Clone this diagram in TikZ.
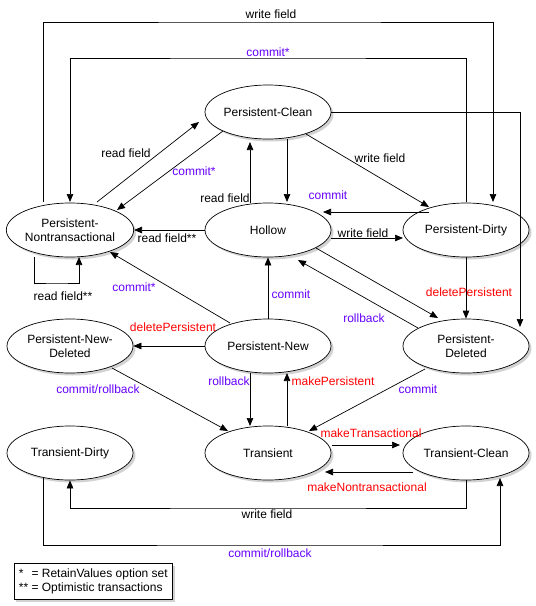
\documentclass[tikz,border=0pt]{standalone}
\usepackage{fontspec}
\setmainfont{Liberation Sans}
\usetikzlibrary{positioning}
\usetikzlibrary{calc}
\usetikzlibrary{arrows.meta}
\usetikzlibrary{shapes.geometric}
\usetikzlibrary{shadows}

\definecolor{cmtblue}{RGB}{102,0,255}
\definecolor{oprred}{RGB}{255,0,0}

\tikzset{
  shade/.style = {drop shadow={shadow xshift=2.5pt, shadow yshift=-2.5pt, fill=black!35}},
  state/.style = {ellipse, draw, fill=white, line width=0.7pt, minimum width=126pt, minimum height=54pt, inner sep=0pt, align=center, shade},
  arr/.style = {line width=0.7pt, -{Triangle[length=8pt, width=6.5pt]}},
  cmt/.style = {text=cmtblue},
  opr/.style = {text=oprred},
}

\begin{document}
\begin{tikzpicture}[x=1pt, y=-1pt, font=\fontsize{12}{14.3}\selectfont]

\useasboundingbox (0, 0) rectangle (536, 606);

% states
\node [state] (pclean) at (268, 112) {Persistent-Clean};
\node [state] (pnontx) at (70, 230) {Persistent-\\Nontransactional};
\node [state] (hollow) at (268, 230) {Hollow};
\node [state] (pdirty) at (466, 230) {Persistent-Dirty};
\node [state] (pnewdel) at (70, 346) {Persistent-New-\\Deleted};
\node [state] (pnew) at (268, 346) {Persistent-New};
\node [state] (pdel) at (466, 346) {Persistent-\\Deleted};
\node [state] (tdirty) at (70, 453) {Transient-Dirty};
\node [state] (trans) at (268, 453) {Transient};
\node [state] (tclean) at (466, 453) {Transient-Clean};

\node [draw, fill=white, line width=0.7pt, anchor=north west, align=left, inner xsep=5pt, inner ysep=4pt, minimum width=157pt, minimum height=36pt, shade] (legend) at (13.5, 563) {*\phantom{*} = RetainValues option set\\** = Optimistic transactions};

% corners of the long connectors
\coordinate (wftop) at (271, 22);
\coordinate (cmtop) at (268, 58);
\coordinate (rfloop) at (57, 283);
\coordinate (wfbot) at (268, 508);
\coordinate (crbot) at (268, 545);

% labels
\node (lwf1) at (271, 14) {write field};
\node [cmt] (lcm1) at (268, 52) {commit*};
\node (lrf1) at (126, 153) {read field};
\node [cmt] (lcm2) at (194, 171) {commit*};
\node (lwf2) at (380, 158) {write field};
\node (lrf2) at (225, 198) {read field};
\node [cmt] (lcm3) at (328, 195) {commit};
\node (lrf3) at (167, 238) {read field**};
\node (lwf3) at (363, 233) {write field};
\node (lrf4) at (63, 296) {read field**};
\node [cmt] (lcm4) at (134, 287) {commit*};
\node [cmt] (lcm5) at (291, 294) {commit};
\node [opr] (ldp1) at (469, 292) {deletePersistent};
\node [cmt] (lrb1) at (364, 318) {rollback};
\node [opr] (ldp2) at (173, 327) {deletePersistent};
\node [cmt] (lcr1) at (98, 389) {commit/rollback};
\node [cmt] (lrb2) at (229, 381) {rollback};
\node [opr] (lmp) at (333, 381) {makePersistent};
\node [cmt] (lcm6) at (418, 389) {commit};
\node [opr] (lmt) at (371, 433) {makeTransactional};
\node [opr] (lmn) at (367, 487) {makeNontransactional};
\node (lwf4) at (267, 514) {write field};
\node [cmt] (lcr2) at (270, 553) {commit/rollback};

% transitions
\draw [arr] ($(pnontx)+(-27,-28)$) |- (wftop) -| ($(pdirty)+(27,-28)$);
\draw [arr] ($(pdirty)+(0,-28)$) |- (cmtop) -| ($(pnontx)+(0,-28)$);
\draw [arr] (pclean.east) -| ($(pdel)+(54,-19)$);
\draw [arr] ($(pnontx)+(27,-28)$) -- ($(pclean)+(-69,10)$);
\draw [arr] ($(pclean)+(-45,19)$) -- ($(pnontx)+(47,-20)$);
\draw [arr] ($(hollow)+(-18,-27)$) -- ($(pclean)+(-18,30)$);
\draw [arr] ($(pclean)+(19,27)$) -- ($(hollow)+(19,-28)$);
\draw [arr] ($(pclean)+(38,22)$) -- ($(pdirty)+(-37,-23)$);
\draw [arr] ($(pdirty)+(-37,-18)$) -- ($(hollow)+(55,-18)$);
\draw [arr] ($(hollow)+(63,8)$) -- ($(pdirty)+(-63,8)$);
\draw [arr] (hollow.west) -- (pnontx.east);
\draw [arr] ($(pnontx)+(-36,27)$) |- (rfloop) -| ($(pnontx)+(9,27)$);
\draw [arr] ($(pnew)+(-38,-23)$) -- ($(pnontx)+(40,22)$);
\draw [arr] (pnew.north) -- (hollow.south);
\draw [arr] ($(hollow)+(48,18)$) -- ($(pdel)+(-28,-28)$);
\draw [arr] ($(pdel)+(-48,-18)$) -- ($(hollow)+(30,30)$);
\draw [arr] (pdirty.south) -- (pdel.north);
\draw [arr] (pnew.west) -- (pnewdel.east);
\draw [arr] ($(pnewdel)+(42,22)$) -- ($(trans)+(-40,-22)$);
\draw [arr] ($(pnew)+(-18,27)$) -- ($(trans)+(-18,-27)$);
\draw [arr] ($(trans)+(19,-27)$) -- ($(pnew)+(19,27)$);
\draw [arr] ($(pdel)+(-41,23)$) -- ($(trans)+(41,-22)$);
\draw [arr] ($(trans)+(64,-8)$) -- ($(tclean)+(-66,-8)$);
\draw [arr] ($(tclean)+(-53,19)$) -- ($(trans)+(57,19)$);
\draw [arr] (tclean.south) |- (wfbot) -| (tdirty.south);
\draw [arr] ($(tdirty)+(-27,25)$) |- (crbot) -| ($(tclean)+(34,25)$);

\end{tikzpicture}
\end{document}
